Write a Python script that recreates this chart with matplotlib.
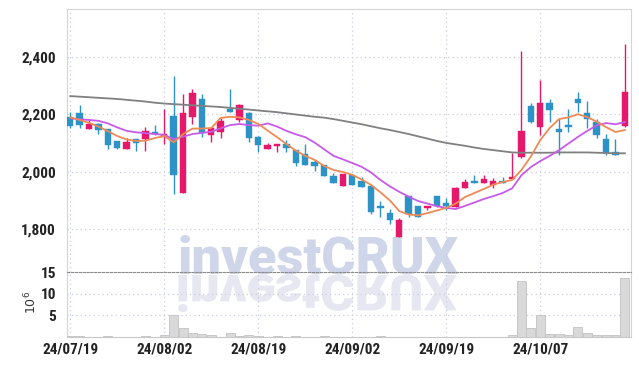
import matplotlib
matplotlib.use('Agg')
import matplotlib.pyplot as plt
from matplotlib import font_manager
from matplotlib.textpath import TextPath
from matplotlib.patches import PathPatch
from matplotlib.font_manager import FontProperties
from matplotlib.transforms import Affine2D
import numpy as np

# daily candles, 60 trading days (24/07/19 .. 24/10/21)
opens = [2189, 2205, 2150, 2166, 2147, 2107, 2080, 2113, 2115, 2139,
         2120, 2194, 1925, 2191, 2252, 2128, 2139, 2217, 2180, 2203,
         2122, 2079, 2090, 2095, 2075, 2062, 2033, 2023, 1986, 1951,
         1989, 1968, 1950, 1881, 1855, 1774, 1915, 1879, 1875, 1915,
         1891, 1878, 1944, 1968, 1962, 1954, 1969, 1974, 2052, 2230,
         2157, 2240, 2149, 2162, 2253, 2205, 2174, 2114, 2067, 2159]
closes = [2159, 2162, 2166, 2145, 2094, 2083, 2103, 2101, 2142, 2130,
          2131, 1989, 2203, 2273, 2134, 2151, 2177, 2209, 2232, 2118,
          2093, 2093, 2096, 2083, 2031, 2023, 2021, 1985, 1962, 1991,
          1954, 1948, 1861, 1875, 1832, 1832, 1853, 1843, 1881, 1882,
          1882, 1942, 1965, 1962, 1974, 1969, 1962, 1983, 2143, 2174,
          2240, 2215, 2139, 2157, 2240, 2182, 2128, 2064, 2058, 2278]
highs = [2209, 2232, 2180, 2168, 2148, 2108, 2116, 2114, 2157, 2162,
         2218, 2333, 2272, 2287, 2270, 2157, 2186, 2287, 2234, 2206,
         2124, 2101, 2097, 2110, 2076, 2096, 2041, 2024, 1997, 1992,
         1990, 1983, 1951, 1898, 1869, 1838, 1916, 1880, 1882, 1916,
         1909, 1948, 1975, 1988, 1988, 1979, 1983, 2064, 2421, 2240,
         2319, 2252, 2183, 2217, 2278, 2246, 2182, 2130, 2113, 2444]
lows = [2153, 2151, 2150, 2130, 2080, 2079, 2078, 2073, 2073, 2129,
        2096, 1922, 1925, 2165, 2122, 2104, 2118, 2208, 2174, 2104,
        2070, 2079, 2068, 2070, 2021, 2022, 2004, 1984, 1962, 1950,
        1953, 1947, 1853, 1843, 1818, 1774, 1843, 1842, 1867, 1878,
        1867, 1877, 1943, 1961, 1960, 1944, 1960, 1973, 2047, 2168,
        2128, 2174, 2058, 2139, 2209, 2151, 2118, 2058, 2057, 2154]

# moving average lines
ma_short = [2189, 2180, 2170, 2157, 2141, 2124, 2112, 2107, 2108, 2117,
            2124, 2102, 2131, 2150, 2150, 2152, 2187, 2191, 2189, 2180,
            2166, 2143, 2120, 2096, 2073, 2055, 2041, 2020, 2006, 1999,
            1989, 1973, 1954, 1928, 1900, 1863, 1851, 1848, 1856, 1865,
            1874, 1889, 1912, 1926, 1940, 1955, 1964, 1971, 2006, 2053,
            2110, 2152, 2183, 2189, 2200, 2190, 2174, 2155, 2138, 2145]
ma_mid = [2186, 2182, 2180, 2177, 2168, 2154, 2142, 2137, 2134, 2131,
          2128, 2113, 2122, 2131, 2135, 2139, 2151, 2162, 2166, 2162,
          2160, 2168, 2157, 2142, 2130, 2120, 2101, 2078, 2055, 2043,
          2030, 2017, 1997, 1971, 1949, 1930, 1913, 1898, 1889, 1880,
          1874, 1870, 1881, 1893, 1905, 1915, 1926, 1942, 1988, 2016,
          2037, 2055, 2075, 2098, 2121, 2142, 2161, 2169, 2165, 2173]
ma_long = [2263, 2261, 2259, 2257, 2255, 2253, 2250, 2247, 2244, 2240,
           2237, 2235, 2233, 2231, 2229, 2227, 2225, 2222, 2219, 2216,
           2213, 2210, 2207, 2203, 2199, 2195, 2191, 2188, 2183, 2177,
           2171, 2165, 2158, 2151, 2145, 2138, 2131, 2123, 2115, 2107,
           2100, 2095, 2090, 2084, 2079, 2075, 2071, 2067, 2066, 2066,
           2066, 2066, 2067, 2067, 2067, 2067, 2066, 2065, 2064, 2064]

# volume in 10^6
volumes = [0.15, 0.15, 0.05, 0.05, 0.15, 0.05, 0.05, 0.05, 0.15, 0.05,
           0.5, 5.0, 2.0, 1.0, 0.8, 0.4, 0.1, 1.0, 0.3, 0.4,
           0.2, 0.05, 0.15, 0.05, 0.15, 0.05, 0.05, 0.15, 0.05, 0.05,
           0.05, 0.05, 0.05, 0.15, 0.05, 0.05, 0.05, 0.05, 0.05, 0.05,
           0.05, 0.05, 0.05, 0.05, 0.05, 0.05, 0.1, 0.4, 12.9, 2.0,
           5.0, 0.8, 0.8, 0.55, 2.2, 1.0, 0.4, 0.4, 0.35, 13.6]

date_ticks = [0, 10, 20, 30, 40, 50]
date_labels = ['24/07/19', '24/08/02', '24/08/19', '24/09/02', '24/09/19', '24/10/07']
price_ticks = [1800, 2000, 2200, 2400]
vol_ticks = [5, 10, 15]

UP = '#e5186b'
DOWN = '#2d93c6'
GRID = '#c9cde0'
W, H = 639, 366


def pick_tick_font():
    fonts = font_manager.fontManager.ttflist
    names = {f.name for f in fonts}
    for name in ('Liberation Sans Narrow', 'Roboto Condensed', 'Open Sans Condensed'):
        if name in names:
            return dict(family=name, weight='bold', size=11)
    if any(f.name == 'DejaVu Sans' and 'condensed' in str(f.stretch) for f in fonts):
        return dict(family='DejaVu Sans', stretch='condensed', weight='bold', size=10.5)
    return dict(family='Roboto', weight='bold', size=10)


def px_rect(left, top, right, bottom):
    return [left / W, 1 - bottom / H, (right - left) / W, (bottom - top) / H]


def draw_watermark(fig, bg):
    prop = FontProperties(family=['Roboto', 'DejaVu Sans'], weight='black', size=40)
    t = bg.text(178, 273, 'investCRUX', fontproperties=prop, color='#d0d6ea',
                ha='left', va='baseline', zorder=0)
    fig.canvas.draw()
    width = t.get_window_extent().width
    size = 40 * 281 / width
    prop.set_size(size)
    t.set_fontproperties(prop)
    # mirrored copy under the baseline
    tp = TextPath((0, 0), 'investCRUX', size=size * 100 / 72, prop=prop)
    ext = tp.get_extents()
    flip = Affine2D().translate(-ext.x0, 0).scale(1, 0.95).translate(178, 275)
    bg.add_patch(PathPatch(flip.transform_path(tp), facecolor='#e6e7f1',
                           edgecolor='none', zorder=0))


def main():
    tick_font = pick_tick_font()
    fig = plt.figure(figsize=(W / 100, H / 100), dpi=100)

    bg = fig.add_axes([0, 0, 1, 1])
    bg.set_xlim(0, W)
    bg.set_ylim(H, 0)
    bg.axis('off')
    draw_watermark(fig, bg)

    ax = fig.add_axes(px_rect(67, 9, 631, 272))
    axv = fig.add_axes(px_rect(67, 272, 631, 337), sharex=ax)
    for a in (ax, axv):
        a.patch.set_alpha(0)
        a.set_zorder(2)

    x = np.arange(len(opens))
    o = np.array(opens)
    c = np.array(closes)
    colors = [UP if cc >= oo else DOWN for oo, cc in zip(o, c)]

    ax.vlines(x, lows, highs, colors=colors, linewidth=1.0, zorder=3)
    body = np.maximum(np.abs(c - o), 4)
    ax.bar(x, body, bottom=np.minimum(o, c), width=0.68, color=colors,
           edgecolor=colors, linewidth=0.3, zorder=4)

    ax.plot(x, ma_long, color='#808080', linewidth=1.3, zorder=5)
    ax.plot(x, ma_mid, color='#c75be8', linewidth=1.3, zorder=5)
    ax.plot(x, ma_short, color='#ee8a55', linewidth=1.3, zorder=6)

    axv.bar(x, volumes, width=0.95, color='#d9d9d9', edgecolor='#c2c2c2',
            linewidth=0.6, zorder=3)

    ax.set_xlim(-0.35, 59.65)
    ax.set_ylim(1651, 2566)
    axv.set_ylim(0, 15)

    ax.set_yticks(price_ticks)
    ax.set_yticklabels(['{:,}'.format(p) for p in price_ticks], **tick_font)
    axv.set_yticks(vol_ticks)
    axv.set_yticklabels([str(v) for v in vol_ticks], **tick_font)
    axv.set_xticks(date_ticks)
    axv.set_xticklabels(date_labels, **tick_font)
    ax.tick_params(axis='x', labelbottom=False, length=0)
    ax.tick_params(axis='y', length=0, pad=8, colors='#222222')
    axv.tick_params(axis='y', length=0, pad=8, colors='#222222')
    axv.tick_params(axis='x', length=0, pad=4, colors='#222222')

    ax.grid(True, color=GRID, linestyle=(0, (1, 2.5)), linewidth=0.9)
    axv.grid(True, color=GRID, linestyle=(0, (1, 2.5)), linewidth=0.9)
    ax.set_axisbelow(True)
    axv.set_axisbelow(True)

    for name in ('left', 'top', 'right'):
        ax.spines[name].set_color('#d4d4d4')
        axv.spines[name].set_color('#d4d4d4')
    ax.spines['bottom'].set_visible(False)
    axv.spines['top'].set_color('#8c8c8c')
    axv.spines['top'].set_linestyle((0, (2, 1.5)))
    axv.spines['bottom'].set_color('#c8c8c8')

    fig.text(31 / W, 1 - 302 / H, r'$10^6$', rotation=90, ha='center', va='center',
             fontsize=9, color='#333333')

    fig.savefig('out.png', dpi=100)


if __name__ == '__main__':
    main()
